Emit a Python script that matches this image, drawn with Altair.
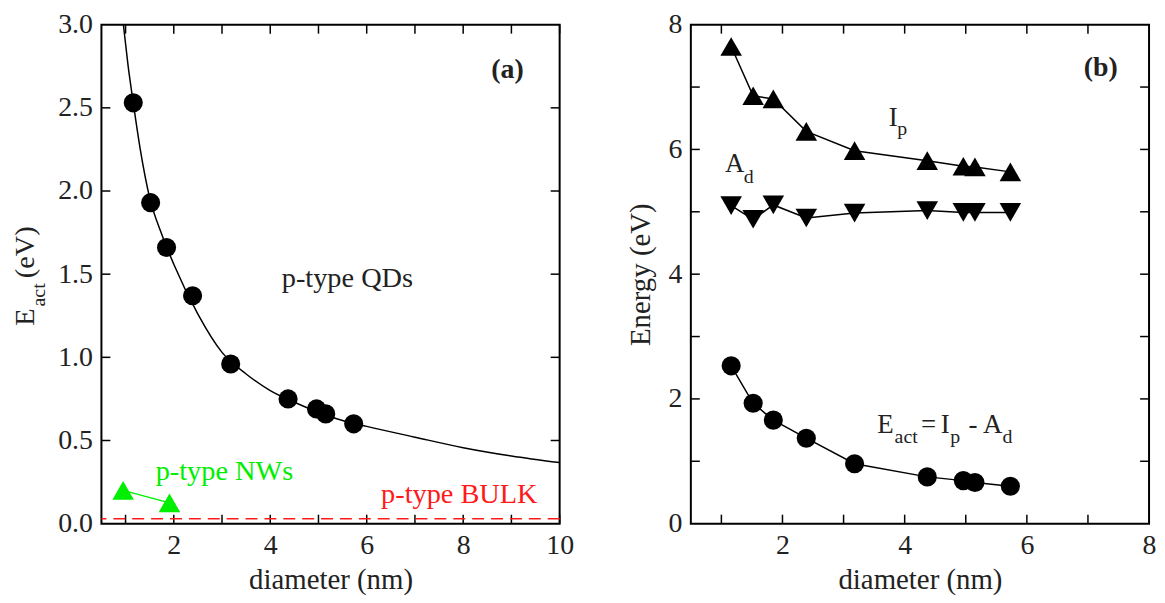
import altair as alt
import pandas as pd

# ---------------- data ----------------
# panel (a)
qd_d = [1.16, 1.52, 1.85, 2.39, 3.18, 4.37, 4.96, 5.15, 5.73]
qd_e = [2.53, 1.93, 1.66, 1.37, 0.96, 0.75, 0.69, 0.66, 0.60]
fit_d = [0.955, 1.05, 1.16, 1.3, 1.5, 1.75, 2.0, 2.5, 3.0, 3.5, 4.0, 4.5, 5.0, 5.5, 6.0, 7.0, 8.0, 9.0, 10.0]
fit_e = [3.0, 2.76, 2.53, 2.26, 1.96, 1.74, 1.56, 1.26, 1.03, 0.90, 0.80, 0.73, 0.67, 0.62, 0.585, 0.52, 0.457, 0.407, 0.367]
nw_d = [0.95, 1.91]
nw_e = [0.20, 0.125]
bulk_e = [0.03]

# panel (b)
ip_e = [7.65, 6.86, 6.81, 6.29, 5.98, 5.82, 5.73, 5.72, 5.64]
ad_e = [5.10, 4.88, 5.11, 4.90, 4.98, 5.02, 4.99, 4.99, 4.99]
act_e = [2.53, 1.93, 1.66, 1.37, 0.96, 0.75, 0.69, 0.66, 0.60]

# axes
a_xdom = [0.5, 10]
a_ydom = [0, 3]
a_xlab = [2, 4, 6, 8, 10]
a_ylab = [0, 0.5, 1.0, 1.5, 2.0, 2.5, 3.0]
a_xtick = [1, 2, 3, 4, 5, 6, 7, 8, 9, 10]
a_ytick = [0.5, 1.0, 1.5, 2.0, 2.5]
b_xdom = [0.5, 8]
b_ydom = [0, 8]
b_xlab = [2, 4, 6, 8]
b_ylab = [0, 2, 4, 6, 8]
b_xtick = [1, 2, 3, 4, 5, 6, 7]
b_ytick = [1, 2, 3, 4, 5, 6, 7]

FONT = "Liberation Serif"
FS = 27        # in-plot symbol labels
FS_NOTE = 28.5 # p-type annotations
FS_LAB = 28    # tick labels
FS_TTL = 29    # axis titles
SUB = 20
W, H = 461, 502
TICK = 9
TXT = "#222222"
GREEN = "#00ee00"
RED = "#ff1a1a"


class Panel:
    def __init__(self, xdom, ydom, xaxis, yaxis):
        self.xs = alt.Scale(domain=xdom, nice=False, zero=False)
        self.ys = alt.Scale(domain=ydom, nice=False, zero=False)
        self.xa = xaxis
        self.ya = yaxis

    def X(self, f="x:Q"):
        return alt.X(f, scale=self.xs, axis=self.xa)

    def Y(self, f="y:Q"):
        return alt.Y(f, scale=self.ys, axis=self.ya)

    def ticks(self, xvals, yvals):
        out = []
        dfx = pd.DataFrame({"x": xvals})
        dfy = pd.DataFrame({"y": yvals})
        for y0, y1 in [(H, H - TICK), (0, TICK)]:
            out.append(alt.Chart(dfx).mark_rule(color="black", strokeWidth=1.5).encode(
                x=self.X(), y=alt.value(y0), y2=alt.value(y1)))
        for x0, x1 in [(0, TICK), (W, W - TICK)]:
            out.append(alt.Chart(dfy).mark_rule(color="black", strokeWidth=1.5).encode(
                y=self.Y(), x=alt.value(x0), x2=alt.value(x1)))
        return out

    def label(self, x, y, pieces, color=TXT, align="left", weight="normal"):
        out = []
        for text, dx, dy, size in pieces:
            df = pd.DataFrame({"x": [x], "y": [y], "t": [text]})
            out.append(alt.Chart(df).mark_text(
                align=align, baseline="alphabetic", dx=dx, dy=dy, fontSize=size,
                color=color, font=FONT, fontWeight=weight).encode(
                x=self.X(), y=self.Y(), text="t:N"))
        return out


def xaxis(vals):
    return alt.Axis(values=vals, format="d", grid=False, ticks=False, tickSize=0,
                    domain=False, labelFlush=False, labelPadding=8,
                    title="diameter (nm)", titleY=65, titleX=W / 2,
                    titleBaseline="alphabetic", titleAlign="center")


# ---------------- panel (a) ----------------
pa = Panel(a_xdom, a_ydom, xaxis(a_xlab),
           alt.Axis(values=a_ylab, format=".1f", grid=False, ticks=False, tickSize=0,
                    domain=False, labelPadding=9, title=None))

fit = alt.Chart(pd.DataFrame({"x": fit_d, "y": fit_e})).mark_line(
    color="black", strokeWidth=1.5, interpolate="monotone", clip=True).encode(
    x=pa.X(), y=pa.Y())
qd = alt.Chart(pd.DataFrame({"x": qd_d, "y": qd_e})).mark_point(
    shape="circle", filled=True, size=370, color="black", opacity=1).encode(
    x=pa.X(), y=pa.Y())
nwdf = pd.DataFrame({"x": nw_d, "y": nw_e})
nwl = alt.Chart(nwdf).mark_line(color=GREEN, strokeWidth=1.5).encode(x=pa.X(), y=pa.Y())
nwp = alt.Chart(nwdf).mark_point(shape="triangle-up", filled=True, size=470,
                                 color=GREEN, opacity=1).encode(x=pa.X(), y=pa.Y())
bulk = alt.Chart(pd.DataFrame({"y": bulk_e})).mark_rule(
    color=RED, strokeWidth=1.5, strokeDash=[12, 7]).encode(y=pa.Y())

ytitle = []
for text, dx, dy, size in [("E", 0, 0, 28.5), ("act", 19.5, 11, SUB), ("(eV)", 48, 0, 28.5)]:
    ytitle.append(alt.Chart(pd.DataFrame({"t": [text]})).mark_text(
        angle=270, align="left", baseline="alphabetic", dx=dx, dy=dy,
        fontSize=size, color=TXT, font=FONT).encode(
        x=alt.value(-68), y=alt.value(H / 2 + 52), text="t:N"))

a_layers = [fit] + pa.ticks(a_xtick, a_ytick) + [bulk, nwl, nwp, qd]
a_layers += pa.label(5.6, 1.425, [("p-type QDs", 0, 0, FS_NOTE)], align="center")
a_layers += pa.label(3.05, 0.265, [("p-type NWs", 0, 0, FS_NOTE)], color=GREEN, align="center")
a_layers += pa.label(7.92, 0.127, [("p-type BULK", 0, 0, FS_NOTE)], color=RED, align="center")
a_layers += pa.label(8.92, 2.68, [("(a)", 0, 0, 28)], align="center", weight="bold")
a_layers += ytitle
panel_a = alt.layer(*a_layers).properties(width=W, height=H)

# ---------------- panel (b) ----------------
pb = Panel(b_xdom, b_ydom, xaxis(b_xlab),
           alt.Axis(values=b_ylab, format="d", grid=False, ticks=False, tickSize=0,
                    domain=False, labelPadding=9, title="Energy (eV)", titleAngle=270,
                    titleX=-42, titleY=H / 2, titleBaseline="alphabetic",
                    titleAlign="center"))

lines_b, points_b = [], []
for vals, shape, size in [(ip_e, "triangle-up", 470), (ad_e, "triangle-down", 470),
                          (act_e, "circle", 370)]:
    df = pd.DataFrame({"x": qd_d, "y": vals})
    lines_b.append(alt.Chart(df).mark_line(color="black", strokeWidth=1.5).encode(
        x=pb.X(), y=pb.Y()))
    points_b.append(alt.Chart(df).mark_point(shape=shape, filled=True, size=size,
                                             color="black", opacity=1).encode(
        x=pb.X(), y=pb.Y()))

b_layers = pb.ticks(b_xtick, b_ytick) + lines_b + points_b
b_layers += pb.label(3.741, 6.377, [("I", 0, 0, FS), ("p", 8.5, 9.5, SUB)])
b_layers += pb.label(1.058, 5.636, [("A", 0, 0, FS), ("d", 19, 11, SUB)])
b_layers += pb.label(3.55, 1.451, [("E", 0, 0, FS), ("act", 17.5, 10, SUB), ("=", 44, 0, FS),
                                    ("I", 64, 0, FS), ("p", 73.5, 10, SUB), ("-", 92, 0, FS),
                                    ("A", 106.5, 0, FS), ("d", 126, 10, SUB)])
b_layers += pb.label(7.21, 7.175, [("(b)", 0, 0, 28)], align="center", weight="bold")
panel_b = alt.layer(*b_layers).properties(width=W, height=H)

chart = alt.hconcat(panel_a, panel_b, spacing=132, bounds="flush").properties(
    padding={"left": 2, "top": 0, "right": 0, "bottom": 0}
).configure_view(stroke="black", strokeWidth=2).configure_axis(
    labelFont=FONT, titleFont=FONT, labelFontSize=FS_LAB, titleFontSize=FS_TTL,
    labelColor=TXT, titleColor=TXT, titleFontWeight="normal"
).configure_text(font=FONT)

chart.save("out.html", embed_options={"renderer": "svg", "actions": False})
